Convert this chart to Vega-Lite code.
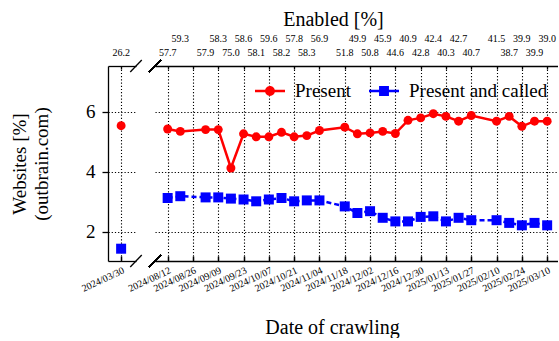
{
  "$schema": "https://vega.github.io/schema/vega-lite/v6.json",
  "padding": {"left": 10, "top": 9, "right": 0, "bottom": 0},
  "bounds": "flush",
  "spacing": 19,
  "config": {
    "font": "Liberation Serif",
    "view": {"stroke": null},
    "axis": {
      "labelFont": "Liberation Serif", "titleFont": "Liberation Serif",
      "labelColor": "black", "titleColor": "black", "titleFontWeight": "normal",
      "domainColor": "black", "domainWidth": 1.3, "tickColor": "black", "tickWidth": 1.3,
      "gridColor": "black", "gridDash": [1.2, 2], "gridWidth": 1.1, "gridOpacity": 1
    },
    "text": {"font": "Liberation Serif"}
  },
  "datasets": {
    "first": [
      {"date": "2024-03-30T00:00", "present": 5.54, "called": 1.44, "enabled": 26.2}
    ],
    "weekly": [
      {"date": "2024-08-12T00:00", "present": 5.43, "called": 3.13, "enabled": 57.7},
      {"date": "2024-08-19T00:00", "present": 5.35, "called": 3.19, "enabled": 59.3},
      {"date": "2024-09-02T00:00", "present": 5.41, "called": 3.15, "enabled": 57.9},
      {"date": "2024-09-09T00:00", "present": 5.41, "called": 3.15, "enabled": 58.3},
      {"date": "2024-09-16T00:00", "present": 4.13, "called": 3.11, "enabled": 75.0},
      {"date": "2024-09-23T00:00", "present": 5.27, "called": 3.08, "enabled": 58.6},
      {"date": "2024-09-30T00:00", "present": 5.17, "called": 3.02, "enabled": 58.1},
      {"date": "2024-10-07T00:00", "present": 5.17, "called": 3.08, "enabled": 59.6},
      {"date": "2024-10-14T00:00", "present": 5.32, "called": 3.13, "enabled": 58.2},
      {"date": "2024-10-21T00:00", "present": 5.17, "called": 3.02, "enabled": 57.8},
      {"date": "2024-10-28T00:00", "present": 5.21, "called": 3.05, "enabled": 58.3},
      {"date": "2024-11-04T00:00", "present": 5.38, "called": 3.05, "enabled": 56.9},
      {"date": "2024-11-18T00:00", "present": 5.49, "called": 2.85, "enabled": 51.8},
      {"date": "2024-11-25T00:00", "present": 5.27, "called": 2.63, "enabled": 49.9},
      {"date": "2024-12-02T00:00", "present": 5.30, "called": 2.69, "enabled": 50.8},
      {"date": "2024-12-09T00:00", "present": 5.35, "called": 2.47, "enabled": 45.9},
      {"date": "2024-12-16T00:00", "present": 5.28, "called": 2.35, "enabled": 44.6},
      {"date": "2024-12-23T00:00", "present": 5.72, "called": 2.35, "enabled": 40.9},
      {"date": "2024-12-30T00:00", "present": 5.80, "called": 2.50, "enabled": 42.8},
      {"date": "2025-01-06T00:00", "present": 5.94, "called": 2.52, "enabled": 42.4},
      {"date": "2025-01-13T00:00", "present": 5.85, "called": 2.35, "enabled": 40.3},
      {"date": "2025-01-20T00:00", "present": 5.69, "called": 2.47, "enabled": 42.7},
      {"date": "2025-01-27T00:00", "present": 5.88, "called": 2.39, "enabled": 40.7},
      {"date": "2025-02-10T00:00", "present": 5.69, "called": 2.39, "enabled": 41.5},
      {"date": "2025-02-17T00:00", "present": 5.85, "called": 2.30, "enabled": 38.7},
      {"date": "2025-02-24T00:00", "present": 5.52, "called": 2.22, "enabled": 39.9},
      {"date": "2025-03-03T00:00", "present": 5.69, "called": 2.30, "enabled": 39.9},
      {"date": "2025-03-10T00:00", "present": 5.69, "called": 2.22, "enabled": 39.0}
    ]
  },
  "resolve": {
    "scale": {"color": "independent", "shape": "independent"},
    "legend": {"color": "independent", "shape": "independent"}
  },
  "hconcat": [
    {
      "width": 28,
      "height": 195,
      "data": {"name": "first"},
      "resolve": {"axis": {"x": "independent"}},
      "layer": [
        {
          "mark": {"type": "point", "shape": "circle", "filled": true, "color": "#ff0000", "size": 80, "opacity": 1},
          "encoding": {
            "x": {"field": "date", "type": "temporal",
              "scale": {"domain": [{"year": 2024, "month": 3, "date": 22, "hours": 12}, {"year": 2024, "month": 4, "date": 7, "hours": 12}]},
              "axis": {"values": [{"year": 2024, "month": 3, "date": 30}], "format": "%Y/%m/%d", "labelAngle": -25, "labelFontSize": 10,
                "tickSize": -5, "tickWidth": 1.5, "labelPadding": 9, "grid": true, "title": null, "labelFlush": false, "labelOverlap": false}},
            "y": {"field": "present", "type": "quantitative",
              "scale": {"domain": [1.03, 7.53], "nice": false, "zero": false},
              "axis": {"values": [2, 4, 6], "grid": true, "labelFontSize": 19, "tickSize": 6, "labelPadding": 7,
                "title": ["Websites [%]", "(outbrain.com)"], "titleFontSize": 19, "titleLineHeight": 22, "titlePadding": 34}}
          }
        },
        {
          "mark": {"type": "point", "shape": "square", "filled": true, "color": "#0000ff", "size": 100, "opacity": 1},
          "encoding": {
            "x": {"field": "date", "type": "temporal",
              "scale": {"domain": [{"year": 2024, "month": 3, "date": 22, "hours": 12}, {"year": 2024, "month": 4, "date": 7, "hours": 12}]},
              "axis": null},
            "y": {"field": "called", "type": "quantitative", "scale": {"domain": [1.03, 7.53], "nice": false, "zero": false},
              "axis": {"values": [2, 4, 6], "grid": true, "labelFontSize": 19, "tickSize": 6, "labelPadding": 7,
                "title": ["Websites [%]", "(outbrain.com)"], "titleFontSize": 19, "titleLineHeight": 22, "titlePadding": 34}}
          }
        },
        {
          "transform": [
            {"window": [{"op": "row_number", "as": "rn"}], "sort": [{"field": "date", "order": "ascending"}]},
            {"filter": "datum.rn % 2 == 1"}
          ],
          "mark": {"type": "text", "fontSize": 10, "baseline": "middle", "color": "black"},
          "encoding": {
            "x": {"field": "date", "type": "temporal",
              "scale": {"domain": [{"year": 2024, "month": 3, "date": 22, "hours": 12}, {"year": 2024, "month": 4, "date": 7, "hours": 12}]},
              "axis": {"orient": "top", "values": [{"year": 2024, "month": 3, "date": 30}], "labels": false, "tickSize": -3, "grid": false, "title": null}},
            "y": {"value": -13},
            "text": {"field": "enabled", "type": "quantitative", "format": ".1f"}
          }
        },
        {
          "mark": {"type": "rule", "color": "black", "strokeWidth": 1.3},
          "encoding": {
            "x": {"datum": {"year": 2024, "month": 4, "date": 4, "hours": 5}, "type": "temporal",
              "scale": {"domain": [{"year": 2024, "month": 3, "date": 22, "hours": 12}, {"year": 2024, "month": 4, "date": 7, "hours": 12}]}, "axis": null},
            "x2": {"datum": {"year": 2024, "month": 4, "date": 10, "hours": 19}},
            "y": {"datum": 7.33, "type": "quantitative", "scale": {"domain": [1.03, 7.53], "nice": false, "zero": false},
              "axis": {"values": [2, 4, 6], "grid": true, "labelFontSize": 19, "tickSize": 6, "labelPadding": 7,
                "title": ["Websites [%]", "(outbrain.com)"], "titleFontSize": 19, "titleLineHeight": 22, "titlePadding": 34}},
            "y2": {"datum": 7.73}
          }
        },
        {
          "mark": {"type": "rule", "color": "black", "strokeWidth": 1.3},
          "encoding": {
            "x": {"datum": {"year": 2024, "month": 4, "date": 4, "hours": 5}, "type": "temporal",
              "scale": {"domain": [{"year": 2024, "month": 3, "date": 22, "hours": 12}, {"year": 2024, "month": 4, "date": 7, "hours": 12}]}, "axis": null},
            "x2": {"datum": {"year": 2024, "month": 4, "date": 10, "hours": 19}},
            "y": {"datum": 0.83, "type": "quantitative", "scale": {"domain": [1.03, 7.53], "nice": false, "zero": false},
              "axis": {"values": [2, 4, 6], "grid": true, "labelFontSize": 19, "tickSize": 6, "labelPadding": 7,
                "title": ["Websites [%]", "(outbrain.com)"], "titleFontSize": 19, "titleLineHeight": 22, "titlePadding": 34}},
            "y2": {"datum": 1.23}
          }
        }
      ]
    },
    {
      "width": 403,
      "height": 195,
      "data": {"name": "weekly"},
      "resolve": {"axis": {"x": "independent"}},
      "layer": [
        {
          "mark": {"type": "line", "color": "#ff0000", "strokeWidth": 2.5},
          "encoding": {
            "x": {"field": "date", "type": "temporal",
              "scale": {"domain": [{"year": 2024, "month": 8, "date": 5}, {"year": 2025, "month": 3, "date": 16}]},
              "axis": {"values": [
                {"year": 2024, "month": 8, "date": 12}, {"year": 2024, "month": 8, "date": 26},
                {"year": 2024, "month": 9, "date": 9}, {"year": 2024, "month": 9, "date": 23},
                {"year": 2024, "month": 10, "date": 7}, {"year": 2024, "month": 10, "date": 21},
                {"year": 2024, "month": 11, "date": 4}, {"year": 2024, "month": 11, "date": 18},
                {"year": 2024, "month": 12, "date": 2}, {"year": 2024, "month": 12, "date": 16},
                {"year": 2024, "month": 12, "date": 30}, {"year": 2025, "month": 1, "date": 13},
                {"year": 2025, "month": 1, "date": 27}, {"year": 2025, "month": 2, "date": 10},
                {"year": 2025, "month": 2, "date": 24}, {"year": 2025, "month": 3, "date": 10}],
                "format": "%Y/%m/%d", "labelAngle": -25, "labelFontSize": 10,
                "tickSize": -5, "tickWidth": 1.5, "labelPadding": 9, "grid": true, "labelFlush": false, "labelOverlap": false,
                "title": "Date of crawling", "titleFontSize": 20, "titleX": 177, "titlePadding": 24}},
            "y": {"field": "present", "type": "quantitative",
              "scale": {"domain": [1.03, 7.53], "nice": false, "zero": false},
              "axis": {"values": [2, 4, 6], "grid": true, "labels": false, "ticks": false, "domain": false, "title": null}}
          }
        },
        {
          "mark": {"type": "line", "color": "#0000ff", "strokeWidth": 2.5, "strokeDash": [5, 3]},
          "encoding": {
            "x": {"field": "date", "type": "temporal",
              "scale": {"domain": [{"year": 2024, "month": 8, "date": 5}, {"year": 2025, "month": 3, "date": 16}]}, "axis": null},
            "y": {"field": "called", "type": "quantitative", "scale": {"domain": [1.03, 7.53], "nice": false, "zero": false},
              "axis": {"values": [2, 4, 6], "grid": true, "labels": false, "ticks": false, "domain": false, "title": null}}
          }
        },
        {
          "mark": {"type": "point", "shape": "circle", "filled": true, "color": "#ff0000", "size": 80, "opacity": 1},
          "encoding": {
            "x": {"field": "date", "type": "temporal",
              "scale": {"domain": [{"year": 2024, "month": 8, "date": 5}, {"year": 2025, "month": 3, "date": 16}]}, "axis": null},
            "y": {"field": "present", "type": "quantitative", "scale": {"domain": [1.03, 7.53], "nice": false, "zero": false},
              "axis": {"values": [2, 4, 6], "grid": true, "labels": false, "ticks": false, "domain": false, "title": null}}
          }
        },
        {
          "mark": {"type": "point", "shape": "square", "filled": true, "color": "#0000ff", "size": 100, "opacity": 1},
          "encoding": {
            "x": {"field": "date", "type": "temporal",
              "scale": {"domain": [{"year": 2024, "month": 8, "date": 5}, {"year": 2025, "month": 3, "date": 16}]}, "axis": null},
            "y": {"field": "called", "type": "quantitative", "scale": {"domain": [1.03, 7.53], "nice": false, "zero": false},
              "axis": {"values": [2, 4, 6], "grid": true, "labels": false, "ticks": false, "domain": false, "title": null}}
          }
        },
        {
          "transform": [
            {"window": [{"op": "row_number", "as": "rn"}], "sort": [{"field": "date", "order": "ascending"}]},
            {"filter": "datum.rn % 2 == 1"}
          ],
          "mark": {"type": "text", "fontSize": 10, "baseline": "middle", "color": "black"},
          "encoding": {
            "x": {"field": "date", "type": "temporal",
              "scale": {"domain": [{"year": 2024, "month": 8, "date": 5}, {"year": 2025, "month": 3, "date": 16}]},
              "axis": {"orient": "top", "values": [
                {"year": 2024, "month": 8, "date": 12}, {"year": 2024, "month": 8, "date": 26},
                {"year": 2024, "month": 9, "date": 9}, {"year": 2024, "month": 9, "date": 23},
                {"year": 2024, "month": 10, "date": 7}, {"year": 2024, "month": 10, "date": 21},
                {"year": 2024, "month": 11, "date": 4}, {"year": 2024, "month": 11, "date": 18},
                {"year": 2024, "month": 12, "date": 2}, {"year": 2024, "month": 12, "date": 16},
                {"year": 2024, "month": 12, "date": 30}, {"year": 2025, "month": 1, "date": 13},
                {"year": 2025, "month": 1, "date": 27}, {"year": 2025, "month": 2, "date": 10},
                {"year": 2025, "month": 2, "date": 24}, {"year": 2025, "month": 3, "date": 10}],
                "labels": false, "tickSize": -3, "grid": false,
                "title": "Enabled [%]", "titleFontSize": 20, "titleX": 178, "titlePadding": 36}},
            "y": {"value": -13},
            "text": {"field": "enabled", "type": "quantitative", "format": ".1f"}
          }
        },
        {
          "transform": [
            {"window": [{"op": "row_number", "as": "rn"}], "sort": [{"field": "date", "order": "ascending"}]},
            {"filter": "datum.rn % 2 == 0"}
          ],
          "mark": {"type": "text", "fontSize": 10, "baseline": "middle", "color": "black"},
          "encoding": {
            "x": {"field": "date", "type": "temporal",
              "scale": {"domain": [{"year": 2024, "month": 8, "date": 5}, {"year": 2025, "month": 3, "date": 16}]}, "axis": null},
            "y": {"value": -27},
            "text": {"field": "enabled", "type": "quantitative", "format": ".1f"}
          }
        },
        {
          "mark": {"type": "rule", "color": "black", "strokeWidth": 1.3},
          "encoding": {
            "x": {"datum": {"year": 2024, "month": 8, "date": 1, "hours": 17}, "type": "temporal",
              "scale": {"domain": [{"year": 2024, "month": 8, "date": 5}, {"year": 2025, "month": 3, "date": 16}]}, "axis": null},
            "x2": {"datum": {"year": 2024, "month": 8, "date": 8, "hours": 7}},
            "y": {"datum": 7.33, "type": "quantitative", "scale": {"domain": [1.03, 7.53], "nice": false, "zero": false},
              "axis": {"values": [2, 4, 6], "grid": true, "labels": false, "ticks": false, "domain": false, "title": null}},
            "y2": {"datum": 7.73}
          }
        },
        {
          "mark": {"type": "rule", "color": "black", "strokeWidth": 1.3},
          "encoding": {
            "x": {"datum": {"year": 2024, "month": 8, "date": 1, "hours": 17}, "type": "temporal",
              "scale": {"domain": [{"year": 2024, "month": 8, "date": 5}, {"year": 2025, "month": 3, "date": 16}]}, "axis": null},
            "x2": {"datum": {"year": 2024, "month": 8, "date": 8, "hours": 7}},
            "y": {"datum": 0.83, "type": "quantitative", "scale": {"domain": [1.03, 7.53], "nice": false, "zero": false},
              "axis": {"values": [2, 4, 6], "grid": true, "labels": false, "ticks": false, "domain": false, "title": null}},
            "y2": {"datum": 1.23}
          }
        },
        {
          "data": {"values": []},
          "mark": {"type": "point", "filled": true, "size": 900, "opacity": 1},
          "encoding": {
            "color": {"field": "series", "type": "nominal",
              "scale": {"domain": ["present", "called"], "range": ["#ff0000", "#0000ff"]},
              "legend": {"title": null, "orient": "top-right", "direction": "horizontal", "offset": 10, "padding": 0,
                "symbolSize": 900, "symbolStrokeWidth": 0,
                "labelFont": "Liberation Serif", "labelFontSize": 19, "labelColor": "black", "labelOffset": 10, "columnPadding": 18,
                "labelExpr": "datum.label == 'present' ? 'Present' : 'Present and called'"}},
            "shape": {"field": "series", "type": "nominal",
              "scale": {"domain": ["present", "called"], "range": [
                "M-1,-0.08H-0.32V0.08H-1Z M0.32,-0.08H1V0.08H0.32Z M0.33,0A0.33,0.33,0,1,1,-0.33,0A0.33,0.33,0,1,1,0.33,0Z",
                "M-1,-0.08H-0.32V0.08H-1Z M0.32,-0.08H1V0.08H0.32Z M-0.33,-0.33H0.33V0.33H-0.33Z"]},
              "legend": {"title": null, "orient": "top-right", "direction": "horizontal", "offset": 10, "padding": 0,
                "symbolSize": 900, "symbolStrokeWidth": 0,
                "labelFont": "Liberation Serif", "labelFontSize": 19, "labelColor": "black", "labelOffset": 10, "columnPadding": 18,
                "labelExpr": "datum.label == 'present' ? 'Present' : 'Present and called'"}}
          }
        }
      ]
    }
  ]
}
